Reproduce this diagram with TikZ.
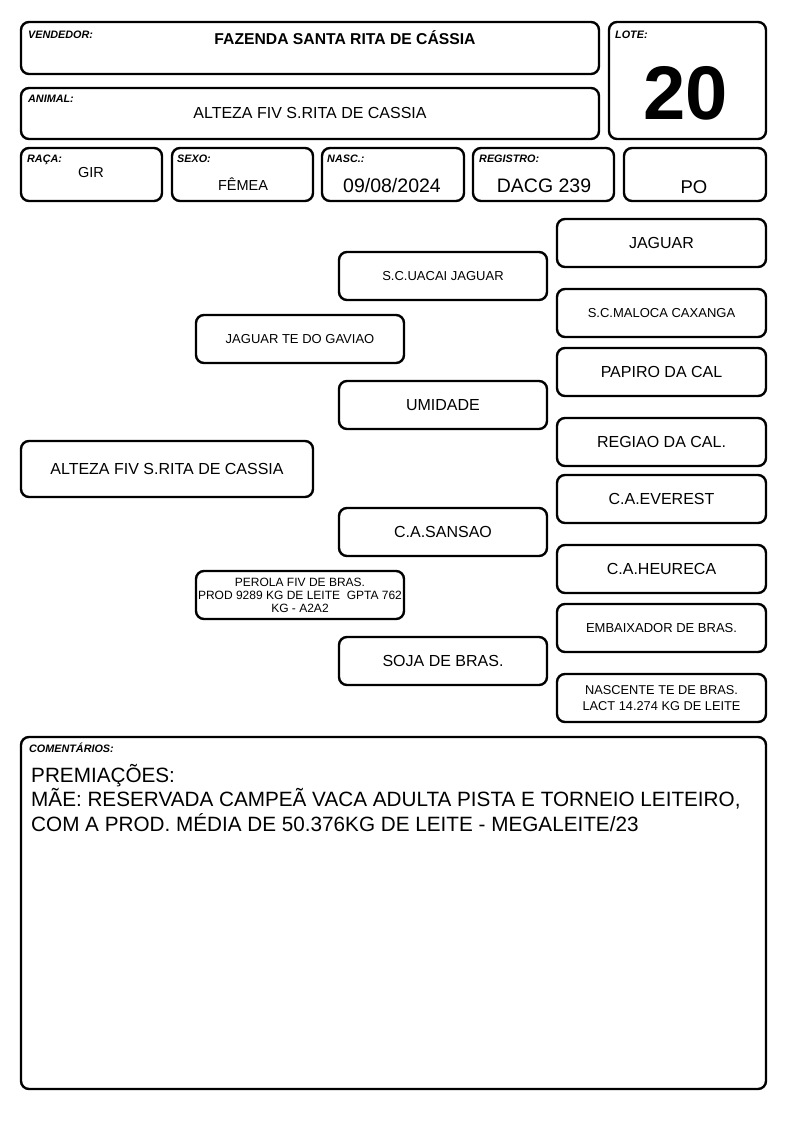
\documentclass[tikz,border=0pt]{standalone}
\usepackage{fontspec}
\setmainfont{Liberation Sans}
\begin{document}
\begin{tikzpicture}[x=1pt,y=-1pt,
  box/.style={draw, line width=2.4pt, rounded corners=8pt, inner sep=0pt},
  lbl/.style={anchor=north west, inner sep=0pt, font=\fontsize{10.8}{12}\selectfont\bfseries\itshape},
  txt/.style={inner sep=0pt, align=center},
  ped/.style={inner sep=0pt, align=center, font=\fontsize{16}{18}\selectfont},
  peds/.style={inner sep=0pt, align=center, font=\fontsize{13}{15}\selectfont}]
\useasboundingbox (0,0) rectangle (794,1123);
% header boxes
\node[box, minimum width=578pt, minimum height=52pt] (vend) at (310,48) {};
\node[box, minimum width=157pt, minimum height=117pt] (lote) at (687.5,80.5) {};
\node[box, minimum width=578pt, minimum height=51pt] (anim) at (310,113.5) {};
\node[box, minimum width=141pt, minimum height=53pt] (raca) at (91.5,174.5) {};
\node[box, minimum width=141pt, minimum height=53pt] (sexo) at (242.5,174.5) {};
\node[box, minimum width=142pt, minimum height=53pt] (nasc) at (393,174.5) {};
\node[box, minimum width=141pt, minimum height=53pt] (reg) at (543.5,174.5) {};
\node[box, minimum width=142pt, minimum height=53pt] (po) at (695,174.5) {};
% labels
\node[lbl] (lvend) at (28,31) {VENDEDOR:};
\node[lbl] (llote) at (615,31) {LOTE:};
\node[lbl] (lanim) at (28,95) {ANIMAL:};
\node[lbl] (lraca) at (27,155) {RAÇA:};
\node[lbl] (lsexo) at (177,155) {SEXO:};
\node[lbl] (lnasc) at (327,155) {NASC.:};
\node[lbl] (lreg) at (479,155) {REGISTRO:};
% header values
\node[txt, font=\fontsize{15.7}{18}\selectfont\bfseries] (tvend) at (345,38) {FAZENDA SANTA RITA DE CÁSSIA};
\node[txt, font=\fontsize{76}{76}\selectfont\bfseries] (tlote) at (686,93) {20};
\node[txt, font=\fontsize{16}{18}\selectfont] (tanim) at (310,113) {ALTEZA FIV S.RITA DE CASSIA};
\node[txt, font=\fontsize{14.5}{16}\selectfont] (traca) at (91,173) {GIR};
\node[txt, font=\fontsize{14.5}{16}\selectfont] (tsexo) at (243,184) {FÊMEA};
\node[txt, font=\fontsize{19.5}{22}\selectfont] (tnasc) at (392,186) {09/08/2024};
\node[txt, font=\fontsize{19.5}{22}\selectfont] (treg) at (544,186) {DACG 239};
\node[txt, font=\fontsize{18.5}{22}\selectfont] (tpo) at (694,187) {PO};
% pedigree
\node[box, minimum width=292pt, minimum height=56pt, ped] (p0) at (167,469) {ALTEZA FIV S.RITA DE CASSIA};
\node[box, minimum width=208pt, minimum height=48pt, peds] (p1) at (300,339) {JAGUAR TE DO GAVIAO};
\node[box, minimum width=208pt, minimum height=48pt, font=\fontsize{12}{13}\selectfont, align=center, inner sep=0pt] (p2) at (300,595) {PEROLA FIV DE BRAS.\\PROD 9289 KG DE LEITE \ GPTA 762\\KG - A2A2};
\node[box, minimum width=208pt, minimum height=48pt, peds] (p3) at (443,276) {S.C.UACAI JAGUAR};
\node[box, minimum width=208pt, minimum height=48pt, ped] (p4) at (443,405) {UMIDADE};
\node[box, minimum width=208pt, minimum height=48pt, ped] (p5) at (443,532) {C.A.SANSAO};
\node[box, minimum width=208pt, minimum height=48pt, ped] (p6) at (443,661) {SOJA DE BRAS.};
\node[box, minimum width=209pt, minimum height=48pt, ped] (p7) at (661.5,243) {JAGUAR};
\node[box, minimum width=209pt, minimum height=48pt, peds] (p8) at (661.5,313) {S.C.MALOCA CAXANGA};
\node[box, minimum width=209pt, minimum height=48pt, ped] (p9) at (661.5,372) {PAPIRO DA CAL};
\node[box, minimum width=209pt, minimum height=48pt, ped] (p10) at (661.5,442) {REGIAO DA CAL.};
\node[box, minimum width=209pt, minimum height=48pt, ped] (p11) at (661.5,499) {C.A.EVEREST};
\node[box, minimum width=209pt, minimum height=48pt, ped] (p12) at (661.5,569) {C.A.HEURECA};
\node[box, minimum width=209pt, minimum height=48pt, peds] (p13) at (661.5,628) {EMBAIXADOR DE BRAS.};
\node[box, minimum width=209pt, minimum height=48pt, font=\fontsize{12.8}{15.5}\selectfont, align=center, inner sep=0pt] (p14) at (661.5,698) {NASCENTE TE DE BRAS.\\LACT 14.274 KG DE LEITE};
% comments
\node[box, minimum width=745pt, minimum height=352pt] (com) at (393.5,913) {};
\node[lbl] (lcom) at (29,743) {COMENTÁRIOS:};
\node[anchor=north west, inner sep=0pt, align=left, font=\fontsize{20.7}{24.5}\selectfont] (tcom) at (31,764) {PREMIAÇÕES:\\MÃE: RESERVADA CAMPEÃ VACA ADULTA PISTA E TORNEIO LEITEIRO,\\COM A PROD. MÉDIA DE 50.376KG DE LEITE - MEGALEITE/23};
\end{tikzpicture}
\end{document}
